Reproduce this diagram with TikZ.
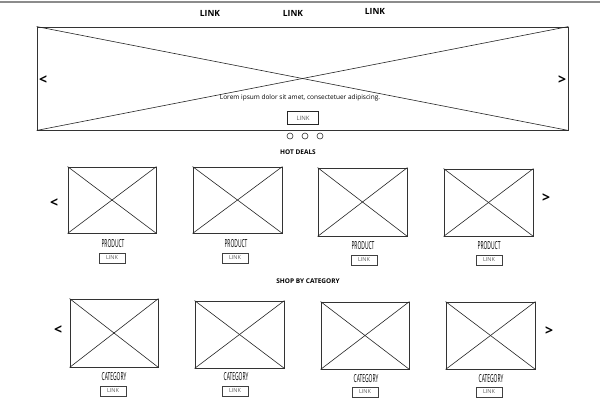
\documentclass[tikz,border=0pt]{standalone}
\usepackage{fontspec}
\setmainfont{Open Sans}
\newfontfamily\narrowfont[FakeStretch=0.45]{Open Sans}
\usetikzlibrary{fit}
\begin{document}
\begin{tikzpicture}[x=1pt,y=-1pt,
 imgbox/.style={draw=black!80, line width=0.9pt, inner sep=0pt},
 diag/.style={draw=black!85, line width=0.6pt},
 toplink/.style={font=\fontsize{8.5}{10}\selectfont\bfseries},
 chev/.style={font=\fontsize{14}{14}\selectfont\bfseries},
 heading/.style={font=\fontsize{6.5}{7}\selectfont\bfseries},
 itemlbl/.style={font=\narrowfont\fontsize{11}{11}\selectfont},
 btn/.style={draw=black!75, line width=0.6pt, inner sep=0pt, minimum width=26pt, minimum height=10pt, font=\fontsize{5.5}{5.5}\selectfont, text=black!65},
 dot/.style={circle, draw=black!80, line width=0.6pt, minimum size=6pt, inner sep=0pt}]
\useasboundingbox (0,0) rectangle (600,400);
\fill[white] (0,0) rectangle (600,400);
\draw[black!45, line width=1.3pt] (0,2) -- (600,2);
% top links
\node[toplink] (l1) at (210,13) {LINK};
\node[toplink] (l2) at (293,13) {LINK};
\node[toplink] (l3) at (375,11) {LINK};
% hero
\node[imgbox, fit={(37,27) (568,130)}] (hero) {};
\draw[diag] (hero.north west) -- (hero.south east);
\draw[diag] (hero.south west) -- (hero.north east);
\node[chev] (hl) at (43,80) {<};
\node[chev] (hr) at (562,80) {>};
\node[font=\fontsize{6.5}{7}\selectfont, inner sep=0.5pt] (lorem) at (300,98) {Lorem ipsum dolor sit amet, consectetuer adipiscing.};
\node[btn, minimum width=31pt, minimum height=13pt, draw=black!85, line width=0.8pt, font=\fontsize{6}{6}\selectfont] (hbtn) at (303,118) {LINK};
\node[dot] (d1) at (290,136) {};
\node[dot] (d2) at (305,136) {};
\node[dot] (d3) at (320,136) {};
% hot deals
\node[heading] (hot) at (298,152) {HOT DEALS};
\node[chev] (pl) at (54,203) {<};
\node[chev] (pr) at (546,198) {>};
\foreach \n/\xa/\ya/\xb/\yb/\lx/\ly/\bx/\by in {
  p1/68/167/156/233/113/244/112/258,
  p2/193/167/282/233/236/244/235/258,
  p3/318/168/407/236/363/246/364/260,
  p4/444/169/533/236/489/246/489/260}{
  \node[imgbox, fit={(\xa,\ya) (\xb,\yb)}] (\n) {};
  \draw[diag] (\n.north west) -- (\n.south east);
  \draw[diag] (\n.south west) -- (\n.north east);
  \node[itemlbl] (\n l) at (\lx,\ly) {PRODUCT};
  \node[btn] (\n b) at (\bx,\by) {LINK};
}
% shop by category
\node[heading] (shop) at (308,281) {SHOP BY CATEGORY};
\node[chev] (cl) at (58,330) {<};
\node[chev] (cr) at (549,331) {>};
\foreach \n/\xa/\ya/\xb/\yb/\lx/\ly/\bx/\by in {
  c1/70/299/158/367/114/377/113/391,
  c2/195/301/284/368/236/377/235/391,
  c3/321/302/409/369/366/379/365/392,
  c4/446/302/535/369/491/379/489/392}{
  \node[imgbox, fit={(\xa,\ya) (\xb,\yb)}] (\n) {};
  \draw[diag] (\n.north west) -- (\n.south east);
  \draw[diag] (\n.south west) -- (\n.north east);
  \node[itemlbl] (\n l) at (\lx,\ly) {CATEGORY};
  \node[btn] (\n b) at (\bx,\by) {LINK};
}
\end{tikzpicture}
\end{document}
